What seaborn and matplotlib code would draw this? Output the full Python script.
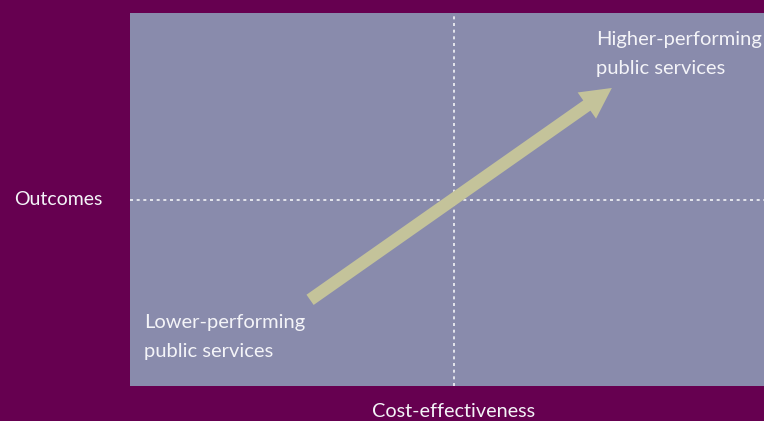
import matplotlib
matplotlib.use("Agg")
import matplotlib.pyplot as plt
import seaborn as sns

# quadrant chart data (axes run 0..1 in both directions)
x_split = 0.511
y_split = 0.50
arrow_start = (0.284, 0.231)
arrow_end = (0.760, 0.799)
labels = ["Lower-performing\npublic services", "Higher-performing\npublic services"]
label_pos = [(0.022, 0.192), (0.735, 0.952)]
x_title = "Cost-effectiveness"
y_title = "Outcomes"

bg = "#660050"
panel = "#898BAC"
arrow_col = "#C4C39A"


def main():
    sns.set_theme(style="white")
    plt.rcParams["font.family"] = ["Lato", "DejaVu Sans"]

    fig = plt.figure(figsize=(7.64, 4.21), dpi=100, facecolor=bg)
    ax = fig.add_axes([130 / 764, 35 / 421, 634 / 764, 373 / 421])
    ax.set_facecolor(panel)
    ax.set_xlim(0, 1)
    ax.set_ylim(0, 1)
    for s in ax.spines.values():
        s.set_visible(False)
    ax.set_xticks([])
    ax.set_yticks([])

    ax.axvline(x_split, color="white", lw=1.2, ls=(0, (1.8, 2.2)), alpha=0.9)
    ax.axhline(y_split, color="white", lw=1.2, ls=(0, (1.8, 2.2)), alpha=0.9)

    ax.annotate("", xy=arrow_end, xytext=arrow_start,
                arrowprops=dict(arrowstyle="simple,head_length=2.2,head_width=2.3,tail_width=0.9",
                                mutation_scale=10, color=arrow_col, lw=0,
                                shrinkA=0, shrinkB=0))

    for txt, (x, y) in zip(labels, label_pos):
        ax.text(x, y, txt, color="#F4F4F8", fontsize=14.5, ha="left", va="top",
                linespacing=1.85)

    ax.set_xlabel(x_title, color="#F4F4F8", fontsize=14.3)
    ax.xaxis.set_label_coords(x_split, -0.045, transform=ax.transAxes)
    ax.set_ylabel(y_title, color="#F4F4F8", fontsize=14, rotation=0,
                  ha="left", va="center")
    ax.yaxis.set_label_coords(-0.183, y_split)

    fig.savefig("out.png", dpi=100, facecolor=bg)


if __name__ == "__main__":
    main()
